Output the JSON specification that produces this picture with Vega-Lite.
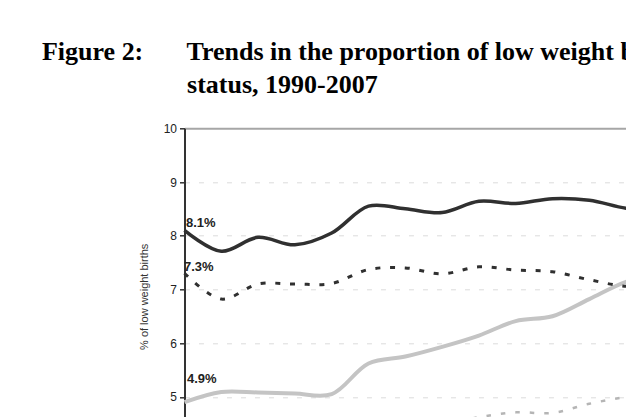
{
  "$schema": "https://vega.github.io/schema/vega-lite/v6.json",
  "width": 625.6,
  "height": 322.2,
  "autosize": {"type": "none"},
  "padding": {"left": 184.5, "top": 128.3, "right": 0, "bottom": 0},
  "background": "white",
  "config": {"view": {"stroke": null}, "font": "Liberation Sans"},
  "title": {
    "text": [
      "Figure 2:\u2003\u2002\u2006Trends in the proportion of low weight births by",
      "\u200b\u2003\u2003\u2003\u2003\u2003\u2002\u200astatus, 1990-2007"
    ],
    "anchor": "start",
    "frame": "group",
    "dx": -142.5,
    "offset": 3,
    "baseline": "alphabetic",
    "font": "Liberation Serif",
    "fontSize": 26,
    "fontWeight": "bold",
    "lineHeight": 33,
    "color": "#000000"
  },
  "data": {
    "values": [
      {"series": "Series 1", "year": 1990, "pct": 8.1},
      {"series": "Series 1", "year": 1991, "pct": 7.71},
      {"series": "Series 1", "year": 1992, "pct": 7.97},
      {"series": "Series 1", "year": 1993, "pct": 7.83},
      {"series": "Series 1", "year": 1994, "pct": 8.05},
      {"series": "Series 1", "year": 1995, "pct": 8.55},
      {"series": "Series 1", "year": 1996, "pct": 8.5},
      {"series": "Series 1", "year": 1997, "pct": 8.43},
      {"series": "Series 1", "year": 1998, "pct": 8.64},
      {"series": "Series 1", "year": 1999, "pct": 8.6},
      {"series": "Series 1", "year": 2000, "pct": 8.69},
      {"series": "Series 1", "year": 2001, "pct": 8.66},
      {"series": "Series 1", "year": 2002, "pct": 8.51},
      {"series": "Series 1", "year": 2003, "pct": 8.45},
      {"series": "Series 1", "year": 2004, "pct": 8.55},
      {"series": "Series 1", "year": 2005, "pct": 8.5},
      {"series": "Series 1", "year": 2006, "pct": 8.6},
      {"series": "Series 1", "year": 2007, "pct": 8.5},
      {"series": "Series 2", "year": 1990, "pct": 7.3},
      {"series": "Series 2", "year": 1991, "pct": 6.82},
      {"series": "Series 2", "year": 1992, "pct": 7.1},
      {"series": "Series 2", "year": 1993, "pct": 7.1},
      {"series": "Series 2", "year": 1994, "pct": 7.11},
      {"series": "Series 2", "year": 1995, "pct": 7.37},
      {"series": "Series 2", "year": 1996, "pct": 7.4},
      {"series": "Series 2", "year": 1997, "pct": 7.29},
      {"series": "Series 2", "year": 1998, "pct": 7.42},
      {"series": "Series 2", "year": 1999, "pct": 7.36},
      {"series": "Series 2", "year": 2000, "pct": 7.33},
      {"series": "Series 2", "year": 2001, "pct": 7.18},
      {"series": "Series 2", "year": 2002, "pct": 7.06},
      {"series": "Series 2", "year": 2003, "pct": 7.1},
      {"series": "Series 2", "year": 2004, "pct": 7.0},
      {"series": "Series 2", "year": 2005, "pct": 7.1},
      {"series": "Series 2", "year": 2006, "pct": 7.0},
      {"series": "Series 2", "year": 2007, "pct": 6.9},
      {"series": "Series 3", "year": 1990, "pct": 4.9},
      {"series": "Series 3", "year": 1991, "pct": 5.09},
      {"series": "Series 3", "year": 1992, "pct": 5.08},
      {"series": "Series 3", "year": 1993, "pct": 5.06},
      {"series": "Series 3", "year": 1994, "pct": 5.05},
      {"series": "Series 3", "year": 1995, "pct": 5.62},
      {"series": "Series 3", "year": 1996, "pct": 5.75},
      {"series": "Series 3", "year": 1997, "pct": 5.93},
      {"series": "Series 3", "year": 1998, "pct": 6.14},
      {"series": "Series 3", "year": 1999, "pct": 6.41},
      {"series": "Series 3", "year": 2000, "pct": 6.5},
      {"series": "Series 3", "year": 2001, "pct": 6.82},
      {"series": "Series 3", "year": 2002, "pct": 7.14},
      {"series": "Series 3", "year": 2003, "pct": 7.3},
      {"series": "Series 3", "year": 2004, "pct": 7.45},
      {"series": "Series 3", "year": 2005, "pct": 7.6},
      {"series": "Series 3", "year": 2006, "pct": 7.7},
      {"series": "Series 3", "year": 2007, "pct": 7.8},
      {"series": "Series 4", "year": 1990, "pct": 4.3},
      {"series": "Series 4", "year": 1991, "pct": 4.2},
      {"series": "Series 4", "year": 1992, "pct": 4.3},
      {"series": "Series 4", "year": 1993, "pct": 4.25},
      {"series": "Series 4", "year": 1994, "pct": 4.3},
      {"series": "Series 4", "year": 1995, "pct": 4.4},
      {"series": "Series 4", "year": 1996, "pct": 4.45},
      {"series": "Series 4", "year": 1997, "pct": 4.48},
      {"series": "Series 4", "year": 1998, "pct": 4.62},
      {"series": "Series 4", "year": 1999, "pct": 4.71},
      {"series": "Series 4", "year": 2000, "pct": 4.7},
      {"series": "Series 4", "year": 2001, "pct": 4.87},
      {"series": "Series 4", "year": 2002, "pct": 5.0},
      {"series": "Series 4", "year": 2003, "pct": 5.1},
      {"series": "Series 4", "year": 2004, "pct": 5.2},
      {"series": "Series 4", "year": 2005, "pct": 5.3},
      {"series": "Series 4", "year": 2006, "pct": 5.4},
      {"series": "Series 4", "year": 2007, "pct": 5.5}
    ]
  },
  "encoding": {
    "x": {
      "field": "year",
      "type": "quantitative",
      "scale": {"domain": [1990, 2007], "nice": false, "zero": false},
      "axis": null
    },
    "y": {
      "field": "pct",
      "type": "quantitative",
      "scale": {"domain": [4, 10], "nice": false, "zero": false},
      "axis": {
        "values": [4, 5, 6, 7, 8, 9, 10],
        "title": "% of low weight births",
        "titleFont": "Liberation Sans",
        "titleFontSize": 11,
        "titleFontWeight": "normal",
        "titleColor": "#333333",
        "titleAngle": -90,
        "titleAlign": "center",
        "titleBaseline": "middle",
        "titleX": -39.5,
        "titleY": 168,
        "labelFont": "Liberation Sans",
        "labelFontSize": 12,
        "labelColor": "#222222",
        "labelPadding": 3,
        "domainColor": "#333333",
        "domainWidth": 2,
        "tickColor": "#333333",
        "tickSize": 5,
        "tickWidth": 1.5,
        "grid": true,
        "gridColor": {"condition": {"test": "datum.value === 10", "value": "#a6a6a6"}, "value": "#dcdcdc"},
        "gridDash": {"condition": {"test": "datum.value === 10", "value": []}, "value": [5, 9]},
        "gridWidth": {"condition": {"test": "datum.value === 10", "value": 2}, "value": 1}
      }
    }
  },
  "layer": [
    {
      "transform": [{"filter": "datum.series === 'Series 3'"}],
      "mark": {"type": "line", "interpolate": "catmull-rom", "color": "#c4c4c4", "strokeWidth": 4}
    },
    {
      "transform": [{"filter": "datum.series === 'Series 4'"}],
      "mark": {"type": "line", "interpolate": "catmull-rom", "color": "#b5b5b5", "strokeWidth": 2.5, "strokeDash": [4.5, 10]}
    },
    {
      "transform": [{"filter": "datum.series === 'Series 2'"}],
      "mark": {"type": "line", "interpolate": "catmull-rom", "color": "#303030", "strokeWidth": 3, "strokeDash": [5, 9.7]}
    },
    {
      "transform": [{"filter": "datum.series === 'Series 1'"}],
      "mark": {"type": "line", "interpolate": "catmull-rom", "color": "#303030", "strokeWidth": 3.5}
    },
    {
      "transform": [
        {"filter": "datum.series === 'Series 1' && datum.year === 1990"},
        {"calculate": "format(datum.pct, '.1f') + '%'", "as": "label"}
      ],
      "mark": {"type": "text", "align": "left", "baseline": "alphabetic", "dx": 1.5, "dy": -3, "font": "Liberation Sans", "fontSize": 13, "fontWeight": "bold", "color": "#222222"},
      "encoding": {"text": {"field": "label"}}
    },
    {
      "transform": [
        {"filter": "datum.series === 'Series 2' && datum.year === 1990"},
        {"calculate": "format(datum.pct, '.1f') + '%'", "as": "label"}
      ],
      "mark": {"type": "text", "align": "left", "baseline": "alphabetic", "dx": -0.5, "dy": -2, "font": "Liberation Sans", "fontSize": 13, "fontWeight": "bold", "color": "#222222"},
      "encoding": {"text": {"field": "label"}}
    },
    {
      "transform": [
        {"filter": "datum.series === 'Series 3' && datum.year === 1990"},
        {"calculate": "format(datum.pct, '.1f') + '%'", "as": "label"}
      ],
      "mark": {"type": "text", "align": "left", "baseline": "alphabetic", "dx": 2.5, "dy": -19, "font": "Liberation Sans", "fontSize": 13, "fontWeight": "bold", "color": "#222222"},
      "encoding": {"text": {"field": "label"}}
    }
  ]
}
